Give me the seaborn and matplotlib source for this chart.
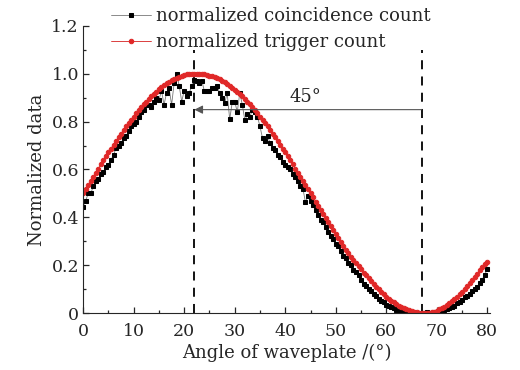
import seaborn as sns
import matplotlib.pyplot as plt
import pandas as pd
from matplotlib.ticker import MultipleLocator, FuncFormatter

# data (angle step 0.5 deg)
angle = [i * 0.5 for i in range(161)]

trigger = [
    .500, .517, .535, .552, .570, .587, .604, .621, .638, .655,
    .671, .687, .703, .719, .735, .750, .765, .780, .794, .808,
    .821, .835, .847, .860, .872, .883, .894, .905, .915, .924,
    .935, .944, .952, .960, .967, .973, .978, .983, .987, .991,
    .994, .997, .999, 1.00, 1.00, 1.00, 1.00, .999, .997, .995,
    .992, .989, .985, .981, .976, .970, .964, .957, .949, .941,
    .933, .924, .915, .905, .894, .883, .872, .860, .847, .835,
    .821, .808, .794, .780, .765, .750, .735, .719, .703, .687,
    .671, .655, .638, .621, .604, .587, .570, .552, .535, .517,
    .500, .483, .465, .448, .430, .413, .396, .379, .362, .345,
    .329, .313, .297, .281, .265, .250, .236, .222, .208, .195,
    .182, .169, .157, .145, .133, .121, .110, .099, .088, .078,
    .069, .060, .052, .044, .037, .031, .025, .019, .015, .011,
    .008, .005, .003, .001, .000, .000, .000, .001, .003, .006,
    .010, .015, .020, .026, .033, .041, .050, .059, .068, .078,
    .089, .100, .112, .124, .137, .150, .164, .178, .192, .206,
    .215]

coincidence = [
    .445, .470, .500, .500, .530, .550, .560, .580, .590, .610,
    .620, .640, .660, .690, .700, .710, .730, .740, .760, .780,
    .790, .800, .820, .840, .850, .870, .870, .860, .880, .900,
    .890, .930, .870, .920, .940, .870, .960, 1.00, .950, .884,
    .930, .906, .920, .950, .975, .970, .960, .970, .926, .930,
    .926, .940, .940, .950, .920, .900, .876, .920, .810, .880,
    .884, .840, .920, .870, .806, .830, .820, .850, .840, .820,
    .780, .730, .720, .740, .710, .690, .680, .660, .650, .630,
    .620, .610, .600, .580, .570, .550, .530, .520, .462, .490,
    .470, .450, .430, .410, .390, .380, .360, .340, .320, .310,
    .290, .280, .260, .240, .230, .210, .200, .180, .170, .160,
    .140, .120, .115, .100, .090, .080, .070, .060, .050, .045,
    .035, .030, .025, .020, .012, .010, .005, .003, .000, .000,
    .000, .005, .000, .000, .002, .000, .005, .000, .000, .003,
    .005, .008, .010, .012, .015, .020, .025, .030, .040, .045,
    .055, .065, .070, .080, .090, .100, .110, .125, .140, .160,
    .185]

peak_angle = 22
valley_angle = 67
gap_label = "45°"

df = pd.DataFrame({"angle": angle, "coincidence": coincidence, "trigger": trigger})

sns.set_style("ticks")
plt.rcParams['font.family'] = ['DejaVu Serif']
plt.rcParams['font.size'] = 12.5

fig = plt.figure(figsize=(5.2, 3.7), dpi=100)
ax = fig.add_axes([0.16, 0.154, 0.782, 0.776])

sns.lineplot(data=df, x="angle", y="coincidence", ax=ax, color="#777777", lw=0.6,
             marker='s', markersize=3.0, markerfacecolor='black', markeredgecolor='black',
             label='normalized coincidence count')
sns.lineplot(data=df, x="angle", y="trigger", ax=ax, color="#d62020", lw=0.6,
             marker='o', markersize=3.2, markerfacecolor='#e02828', markeredgecolor='#e02828',
             label='normalized trigger count')

ax.vlines([peak_angle, valley_angle], 0, 1.1, colors='black', linestyles=(0, (5, 4)), lw=1.3, zorder=1)
ax.annotate('', xy=(peak_angle, 0.85), xytext=(valley_angle, 0.85),
            arrowprops=dict(arrowstyle='-|>', color='#555555', lw=0.8, shrinkA=0, shrinkB=0))
ax.text(44, 0.865, gap_label, ha='center', va='bottom', fontsize=13)

ax.set_xlim(0, 80.5)
ax.set_ylim(0, 1.2)
ax.xaxis.set_major_locator(MultipleLocator(10))
ax.xaxis.set_minor_locator(MultipleLocator(5))
ax.yaxis.set_major_locator(MultipleLocator(0.2))
ax.yaxis.set_minor_locator(MultipleLocator(0.1))
ax.yaxis.set_major_formatter(FuncFormatter(lambda v, p: '0' if abs(v) < 1e-9 else f'{v:.1f}'))
ax.tick_params(which='both', direction='in', width=0.9)
ax.tick_params(which='major', length=4, labelsize=12.5)
ax.tick_params(axis='x', which='major', pad=7)
ax.tick_params(axis='y', which='major', pad=3)
ax.tick_params(which='minor', length=2)
sns.despine(ax=ax)

ax.set_xlabel("Angle of waveplate /(°)", fontsize=13, labelpad=3)
ax.set_ylabel("Normalized data", fontsize=13, labelpad=4)

ax.legend(loc='upper left', bbox_to_anchor=(0.2, 1.0), bbox_transform=fig.transFigure,
          frameon=False, fontsize=13, handlelength=2.2, handletextpad=0.3,
          labelspacing=0.45, borderaxespad=0)

fig.savefig('out.png', dpi=100)
